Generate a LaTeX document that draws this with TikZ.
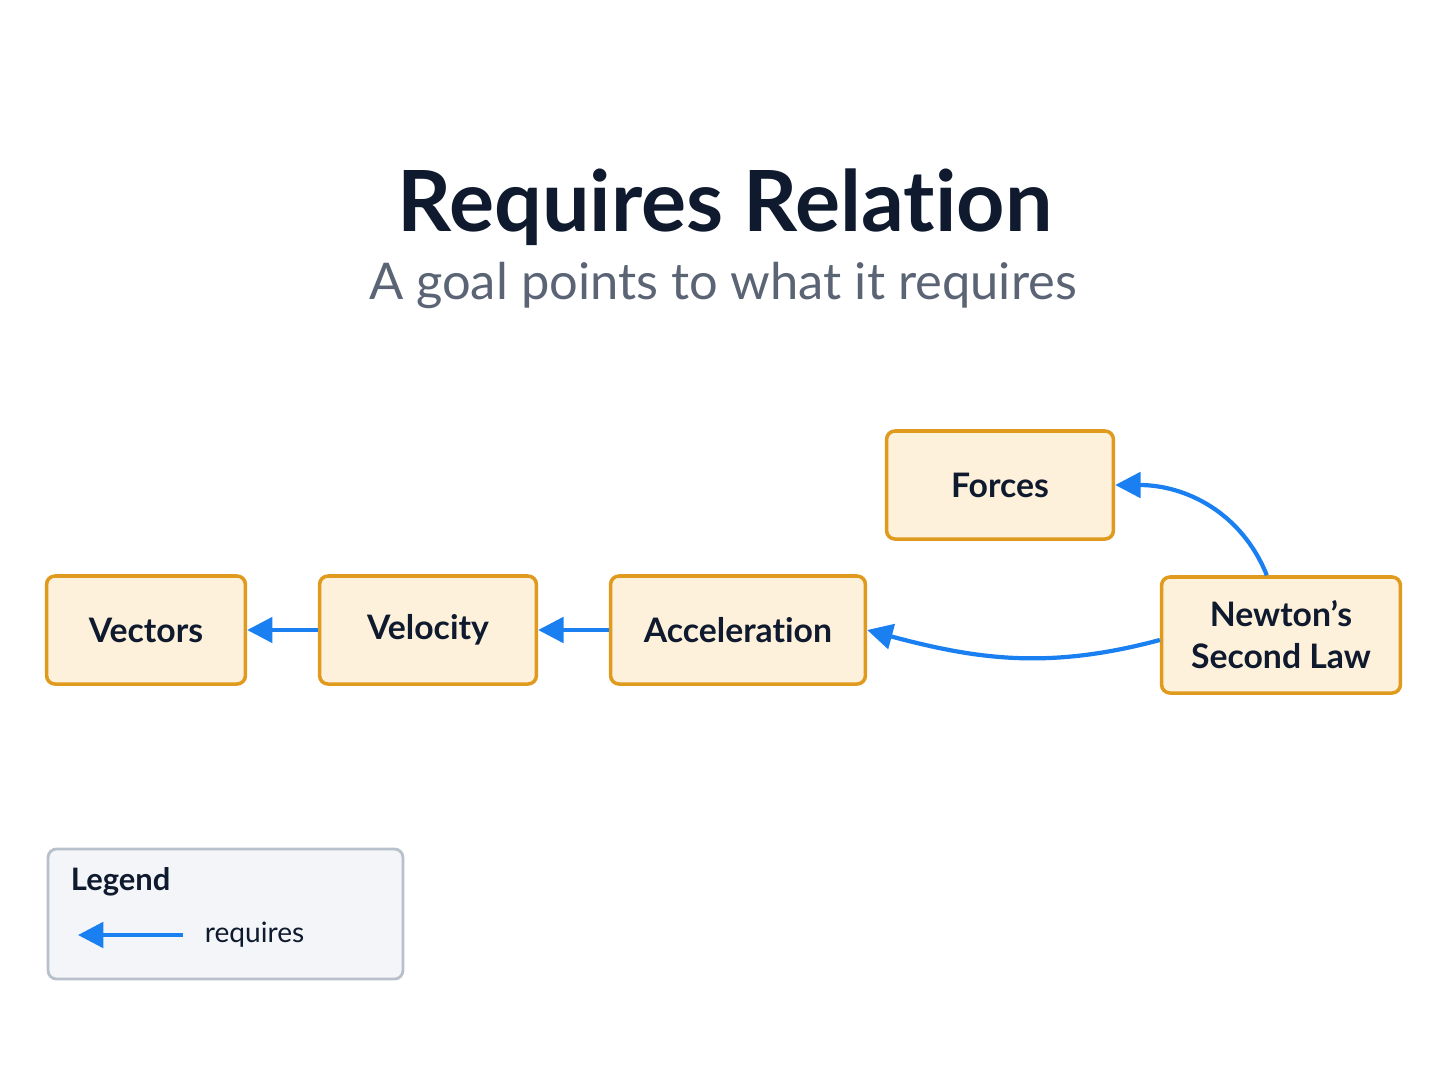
\documentclass[tikz,border=0pt]{standalone}
\usepackage{fontspec}
\setmainfont[Ligatures={NoCommon,NoContextual}]{Lato}
\usetikzlibrary{arrows.meta}
\definecolor{boxfill}{HTML}{FDF1DC}
\definecolor{boxline}{HTML}{E09A1E}
\definecolor{reqblue}{HTML}{1A7FF0}
\definecolor{titlecol}{HTML}{0F1A2E}
\definecolor{subcol}{HTML}{5A6474}
\definecolor{legfill}{HTML}{F3F5F8}
\definecolor{legline}{HTML}{B8C0CC}
\begin{document}
\begin{tikzpicture}[x=0.025cm, y=-0.025cm,
    topic/.style={rectangle, rounded corners=6pt, draw=boxline, fill=boxfill, line width=2.5pt,
      minimum height=2.7cm, align=center, font=\fontsize{24}{28}\selectfont\bfseries, text=titlecol},
    requires/.style={-{Triangle[length=18pt,width=18pt]}, reqblue, line width=3pt}]

    \useasboundingbox (0,0) rectangle (1448,1086);

    % Title
    \node[font=\fontsize{60}{66}\selectfont\bfseries, text=titlecol] (title) at (725,207) {Requires Relation};
    \node[font=\fontsize{36}{40}\selectfont, text=subcol] (subtitle) at (723,285) {A goal points to what it requires};

    % Topics
    \node[topic, minimum width=4.97cm] (vectors) at (146,630) {Vectors};
    \node[topic, minimum width=5.42cm] (velocity) at (428,630) {Velocity};
    \node[topic, minimum width=6.37cm] (accel) at (738,630) {Acceleration};
    \node[topic, minimum width=5.67cm] (forces) at (1000,485) {Forces};
    \node[topic, minimum width=5.97cm, minimum height=2.9cm, font=\fontsize{24}{30}\selectfont\bfseries] (newton) at (1281,635) {Newton’s\\Second Law};

    % Edges
    \draw[requires] (velocity) -- (vectors);
    \draw[requires] (accel) -- (velocity);
    \draw[requires] (newton.north west) ++(107,0) coordinate (nt) (nt) to[out=112, in=0] (forces.east);
    \draw[requires] (newton.west) ++(0,5) coordinate (nw) (nw) to[out=195, in=-15] (accel.east);

    % Legend
    \node[draw=legline, fill=legfill, line width=2pt, rounded corners=6pt, minimum width=8.87cm, minimum height=3.25cm] (legend) at (225.5,914) {};
    \node[font=\fontsize{22}{26}\selectfont\bfseries, text=titlecol, anchor=west] (legtitle) at (66,882) {Legend};
    \coordinate (lega) at (183,935);
    \coordinate (legb) at (78,935);
    \draw[requires] (lega) -- (legb);
    \node[font=\fontsize{20}{24}\selectfont, text=titlecol, anchor=west] (legtext) at (200,935) {requires};

\end{tikzpicture}
\end{document}
